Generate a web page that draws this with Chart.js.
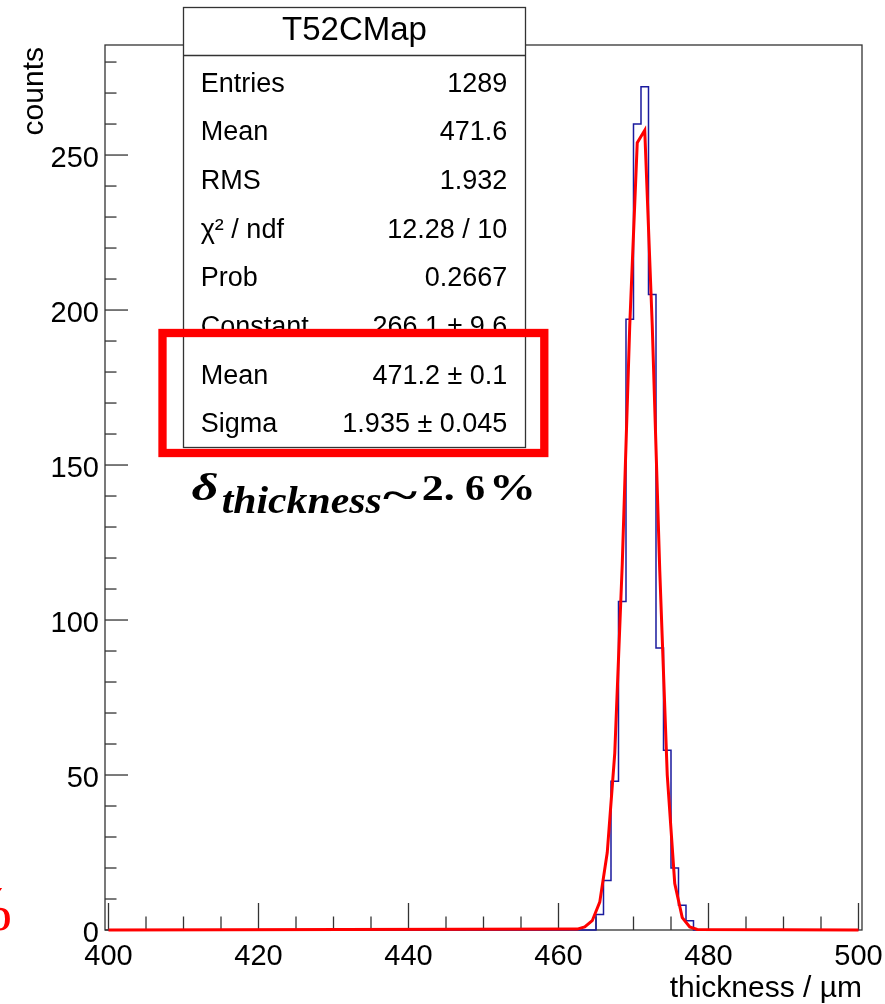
<!DOCTYPE html>
<html>
<head>
<meta charset="utf-8">
<title>T52CMap</title>
<script src="https://cdn.jsdelivr.net/npm/chart.js@4.4.0/dist/chart.umd.min.js"></script>
<style>
  html, body { margin: 0; padding: 0; background: #fff; }
  canvas { display: block; }
</style>
</head>
<body>
<canvas id="histo" width="885" height="1004"></canvas>
<script>
// histogram bins (1 um wide), everything else is empty
const binStarts = [465, 466, 467, 468, 469, 470, 471, 472, 473, 474, 475, 476, 477];
const binCounts = [5, 16, 48, 106, 197, 260, 272, 205, 91, 58, 20, 8, 3];
const binWidth = 1;

// gaussian fit curve as drawn
const fitX = [400, 462.5, 463.5, 464.5, 465.5, 466.5, 467.5, 468.5, 469.5, 470.5,
  471.5, 472.5, 473.5, 474.5, 475.5, 476.5, 477.5, 478.5, 500];
const fitY = [0, 0.3, 1, 3, 9, 25, 57, 118, 195, 254,
  258, 195, 116, 50, 15, 4, 1, 0.2, 0];

const xTickLabels = [400, 420, 440, 460, 480, 500];
const yTickLabels = [0, 50, 100, 150, 200, 250];
const xMinorStep = 5;
const yMinorStep = 10;
const xTitle = "thickness / \u00b5m";
const yTitle = "counts";

const statsTitle = "T52CMap";
const statsNames = ["Entries", "Mean", "RMS", "\u03c7\u00b2 / ndf", "Prob", "Constant", "Mean", "Sigma"];
const statsValues = ["1289", "471.6", "1.932", "12.28 / 10", "0.2667", "266.1 \u00b1 9.6", "471.2 \u00b1 0.1", "1.935 \u00b1 0.045"];

const SANS = '"Liberation Sans", Arial, sans-serif';
const SERIF = '"Liberation Serif", "DejaVu Serif", serif';

const histPoints = [{ x: xTickLabels[0], y: 0 }];
binStarts.forEach((s, i) => histPoints.push({ x: s, y: binCounts[i] }));
histPoints.push({ x: binStarts[binStarts.length - 1] + binWidth, y: 0 });
histPoints.push({ x: xTickLabels[xTickLabels.length - 1], y: 0 });

const fitPoints = fitX.map((x, i) => ({ x: x, y: fitY[i] }));

function line(ctx, x1, y1, x2, y2) {
  ctx.beginPath();
  ctx.moveTo(x1, y1);
  ctx.lineTo(x2, y2);
  ctx.stroke();
}

// draws text squeezed/stretched horizontally to a given width
function drawStretched(ctx, text, font, x, base, width) {
  ctx.font = font;
  const w = ctx.measureText(text).width;
  ctx.save();
  ctx.translate(x, base);
  ctx.scale(width / w, 1);
  ctx.textAlign = "left";
  ctx.textBaseline = "alphabetic";
  ctx.fillText(text, 0, 0);
  ctx.restore();
}

const rootFrame = {
  id: "rootFrame",
  beforeDatasetsDraw(chart) {
    const { ctx, chartArea: a, scales } = chart;
    const xs = scales.x;
    const ys = scales.y;
    ctx.save();
    ctx.strokeStyle = "#333";
    ctx.lineWidth = 1.3;
    ctx.strokeRect(a.left, a.top, a.right - a.left, a.bottom - a.top);

    const x0 = xTickLabels[0];
    const x1 = xTickLabels[xTickLabels.length - 1];
    for (let v = x0; v <= x1; v += xMinorStep) {
      const px = xs.getPixelForValue(v);
      const len = xTickLabels.includes(v) ? 27 : 13.5;
      line(ctx, px, a.bottom, px, a.bottom - len);
    }
    for (let v = 0; v <= ys.max; v += yMinorStep) {
      const py = ys.getPixelForValue(v);
      const len = yTickLabels.includes(v) ? 23 : 11.5;
      line(ctx, a.left, py, a.left + len, py);
    }

    ctx.fillStyle = "#000";
    ctx.font = "29px " + SANS;
    ctx.textAlign = "center";
    ctx.textBaseline = "alphabetic";
    xTickLabels.forEach((v) => {
      ctx.fillText(String(v), xs.getPixelForValue(v), a.bottom + 35);
    });
    ctx.textAlign = "right";
    yTickLabels.forEach((v) => {
      ctx.fillText(String(v), a.left - 6, ys.getPixelForValue(v) + 11.5);
    });

    ctx.font = "30px " + SANS;
    ctx.textAlign = "right";
    ctx.fillText(xTitle, a.right, 997);

    ctx.save();
    ctx.translate(43, a.top + 2);
    ctx.rotate(-Math.PI / 2);
    ctx.textAlign = "right";
    ctx.fillText(yTitle, 0, 0);
    ctx.restore();
    ctx.restore();
  },
  afterDraw(chart) {
    const ctx = chart.ctx;
    ctx.save();

    // stats box
    const bx0 = 183.5, bx1 = 525.5, by0 = 7.5, byHead = 55.5, by1 = 447.5;
    ctx.fillStyle = "#fff";
    ctx.fillRect(bx0, by0, bx1 - bx0, by1 - by0);
    ctx.strokeStyle = "#333";
    ctx.lineWidth = 1.3;
    ctx.strokeRect(bx0, by0, bx1 - bx0, by1 - by0);
    line(ctx, bx0, byHead, bx1, byHead);

    ctx.fillStyle = "#000";
    ctx.textBaseline = "alphabetic";
    ctx.font = "33px " + SANS;
    ctx.textAlign = "center";
    ctx.fillText(statsTitle, (bx0 + bx1) / 2, 40);

    ctx.font = "27px " + SANS;
    statsNames.forEach((name, i) => {
      const base = 91.7 + i * 48.66;
      ctx.textAlign = "left";
      ctx.fillText(name, 200.7, base);
      ctx.textAlign = "right";
      ctx.fillText(statsValues[i], 507.3, base);
    });

    // red highlight box
    ctx.strokeStyle = "#ff0000";
    ctx.lineWidth = 8.3;
    ctx.strokeRect(162.5, 333, 544.3 - 162.5, 453 - 333);

    // annotation
    ctx.fillStyle = "#000";
    drawStretched(ctx, "\u03b4", "bold italic 38px " + SERIF, 191.5, 500, 27);
    drawStretched(ctx, "thickness", "bold italic 38px " + SERIF, 221.7, 513, 160);
    ctx.font = "bold 40px " + SERIF;
    const m = ctx.measureText("~");
    const tBase = 495 + (m.actualBoundingBoxAscent - m.actualBoundingBoxDescent) / 2;
    drawStretched(ctx, "~", "bold 40px " + SERIF, 383, tBase, 34);
    drawStretched(ctx, "2.", "bold 36px " + SERIF, 421.7, 500, 33);
    drawStretched(ctx, "6", "bold 36px " + SERIF, 465, 500, 20);
    drawStretched(ctx, "%", "bold 37px " + SERIF, 489, 500, 47);

    // clipped red fragment at the left edge
    ctx.fillStyle = "#ff0000";
    ctx.font = "64px " + SERIF;
    ctx.textAlign = "right";
    ctx.fillText("%", 12, 930);
    ctx.restore();
  }
};

new Chart(document.getElementById("histo"), {
  type: "line",
  data: {
    datasets: [
      {
        label: "fit",
        data: fitPoints,
        borderColor: "#ff0000",
        borderWidth: 3,
        pointRadius: 0,
        tension: 0,
        fill: false,
        clip: false,
      },
      {
        label: "T52CMap",
        data: histPoints,
        borderColor: "#1a1a9e",
        borderWidth: 1.5,
        pointRadius: 0,
        stepped: true,
        fill: false,
        clip: false,
      },
    ],
  },
  options: {
    responsive: false,
    animation: false,
    devicePixelRatio: 1,
    layout: { padding: { left: 105, top: 45, right: 23, bottom: 74 } },
    plugins: {
      legend: { display: false },
      tooltip: { enabled: false },
    },
    scales: {
      x: { type: "linear", min: 399.533, max: 500.467, display: false },
      y: { type: "linear", min: 0, max: 285.5, display: false },
    },
  },
  plugins: [rootFrame],
});
</script>
</body>
</html>
